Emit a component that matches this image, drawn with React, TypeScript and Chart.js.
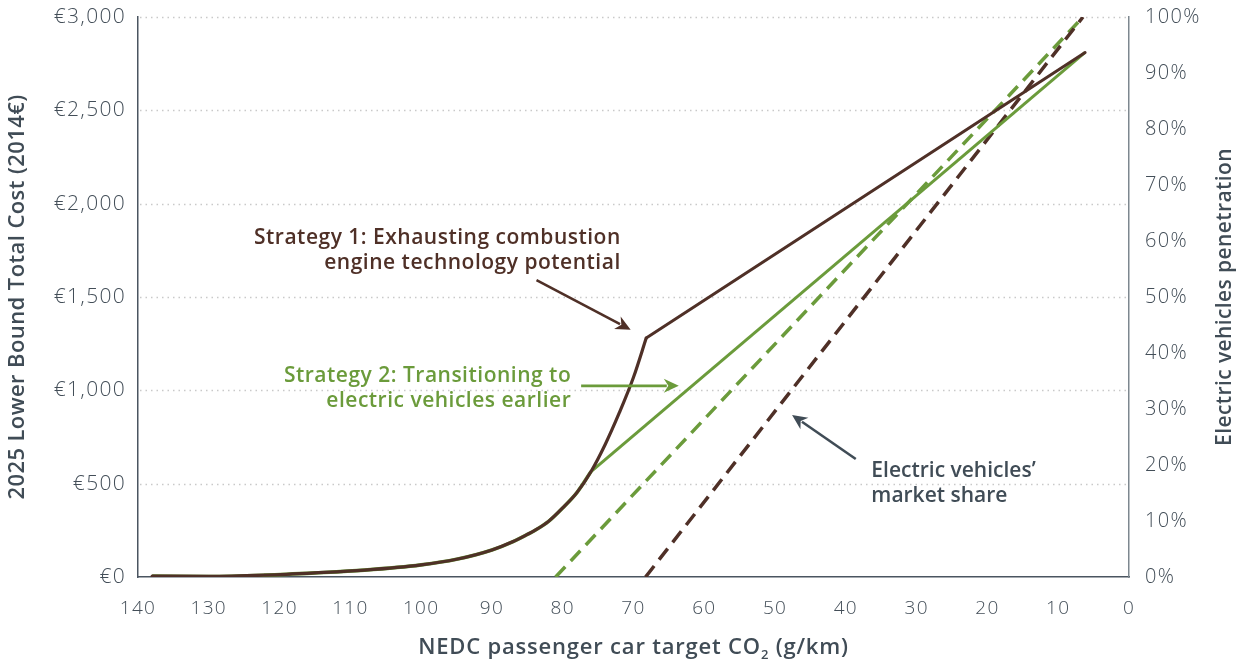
import React, { useEffect, useRef } from "react";
import { Chart, registerables } from "chart.js";

Chart.register(...registerables);

// ---- Data ----
// Shared cost curve (combustion technology improvements), CO2 target g/km vs 2014€
const curveCo2 = [138, 130, 122, 115, 108, 100, 95, 90, 87, 85, 84, 82, 80, 78, 76, 74, 72, 70, 68.2];
const curveCost = [5, 3, 10, 22, 37, 65, 95, 145, 190, 228, 248, 298, 370, 452, 565, 710, 880, 1070, 1280];
const branchIndex = 14; // Strategy 2 leaves the combustion curve at 76 g/km

// Strategy 1 linear segment after the combustion limit
const s1LineCo2 = [68.2, 6.2];
const s1LineCost = [1280, 2810];

// Strategy 2 linear segment (earlier transition to EVs)
const s2LineCo2 = [76, 6.2];
const s2LineCost = [565, 2810];

// Electric vehicle market share (right axis, %)
const evShareS2Co2 = [81.0, 6.5];
const evShareS2 = [0, 100];
const evShareS1Co2 = [68.3, 6.5];
const evShareS1 = [0, 100];

// Axis ranges / labels
const xMin = 0;
const xMax = 140;
const xStep = 10;
const costMax = 3000;
const costStep = 500;
const shareMax = 100;
const shareStep = 10;

const leftTitle = "2025 Lower Bound Total Cost (2014€)";
const rightTitle = "Electric vehicles penetration";
const xTitleMain = "NEDC passenger car target CO";
const xTitleSub = "2";
const xTitleTail = " (g/km)";

const s1Label = ["Strategy 1: Exhausting combustion", "engine technology potential"];
const s2Label = ["Strategy 2: Transitioning to", "electric vehicles earlier"];
const evLabel = ["Electric vehicles’", "market share"];

// ---- Styles ----
const BROWN = "#4f3027";
const GREEN = "#6b9b3b";
const GRAY = "#404c56";
const TICK = "#434e58";
const AXIS = "#4a5560";
const FONT = '"Open Sans", "Noto Sans", sans-serif';

const pts = (xs: number[], ys: number[]) => xs.map((x, i) => ({ x, y: ys[i] }));

export default function App() {
  const ref = useRef<HTMLCanvasElement | null>(null);

  useEffect(() => {
    if (!ref.current) return;

    const gridPlugin = {
      id: "dottedGrid",
      beforeDraw(chart: any) {
        (chart.ctx as any).letterSpacing = "1.3px";
      },
      beforeDatasetsDraw(chart: any) {
        const { ctx, chartArea } = chart;
        const y = chart.scales.y;
        ctx.save();
        (ctx as any).letterSpacing = "0px";
        ctx.strokeStyle = "#c9c9c9";
        ctx.lineWidth = 1.3;
        ctx.setLineDash([1.5, 4]);
        for (let v = costStep; v <= costMax; v += costStep) {
          const py = Math.round(y.getPixelForValue(v)) + 0.5;
          ctx.beginPath();
          ctx.moveTo(chartArea.left + 2, py);
          ctx.lineTo(chartArea.right - 2, py);
          ctx.stroke();
        }
        ctx.restore();
      },
    };

    const textPlugin = {
      id: "annotations",
      afterDraw(chart: any) {
        const { ctx, chartArea } = chart;
        const x = chart.scales.x;
        const y = chart.scales.y;
        const px = (v: number) => x.getPixelForValue(v);
        const py = (v: number) => y.getPixelForValue(v);
        (ctx as any).letterSpacing = "0px";

        const arrow = (x1: number, y1: number, x2: number, y2: number, color: string) => {
          const ang = Math.atan2(y2 - y1, x2 - x1);
          const head = 15;
          const half = 7;
          ctx.save();
          ctx.strokeStyle = color;
          ctx.fillStyle = color;
          ctx.lineWidth = 2.6;
          ctx.beginPath();
          ctx.moveTo(x1, y1);
          ctx.lineTo(x2 - Math.cos(ang) * head * 0.8, y2 - Math.sin(ang) * head * 0.8);
          ctx.stroke();
          ctx.beginPath();
          ctx.moveTo(x2, y2);
          ctx.lineTo(
            x2 - Math.cos(ang) * head - Math.sin(ang) * half,
            y2 - Math.sin(ang) * head + Math.cos(ang) * half
          );
          ctx.lineTo(x2 - Math.cos(ang) * head * 0.7, y2 - Math.sin(ang) * head * 0.7);
          ctx.lineTo(
            x2 - Math.cos(ang) * head + Math.sin(ang) * half,
            y2 - Math.sin(ang) * head - Math.cos(ang) * half
          );
          ctx.closePath();
          ctx.fill();
          ctx.restore();
        };

        const block = (
          lines: string[],
          ax: number,
          ay: number[],
          align: CanvasTextAlign,
          color: string,
          spacing: string
        ) => {
          ctx.save();
          ctx.font = `600 21px ${FONT}`;
          (ctx as any).letterSpacing = spacing;
          ctx.fillStyle = color;
          ctx.textAlign = align;
          ctx.textBaseline = "middle";
          lines.forEach((l, i) => ctx.fillText(l, px(ax), py(ay[i])));
          ctx.restore();
        };

        // Strategy 1
        block(s1Label, 71.8, [1816, 1682], "right", BROWN, "0.5px");
        arrow(px(83.7), py(1590), px(70.4), py(1325), BROWN);
        // Strategy 2
        block(s2Label, 78.8, [1078, 944], "right", GREEN, "0.5px");
        arrow(px(77.4), py(1024), px(63.6), py(1024), GREEN);
        // EV market share
        block(evLabel, 36.4, [568, 434], "left", GRAY, "0px");
        arrow(px(38.6), py(632), px(47.6), py(868), GRAY);

        // Axis titles
        const midY = (chartArea.top + chartArea.bottom) / 2;
        ctx.save();
        ctx.font = `600 22px ${FONT}`;
        (ctx as any).letterSpacing = "0.4px";
        ctx.fillStyle = GRAY;
        ctx.textAlign = "center";
        ctx.textBaseline = "middle";
        ctx.translate(18, midY);
        ctx.rotate(-Math.PI / 2);
        ctx.fillText(leftTitle, 0, 0);
        ctx.restore();

        ctx.save();
        ctx.font = `600 21px ${FONT}`;
        (ctx as any).letterSpacing = "0.4px";
        ctx.fillStyle = GRAY;
        ctx.textAlign = "center";
        ctx.textBaseline = "middle";
        ctx.translate(1225, midY);
        ctx.rotate(-Math.PI / 2);
        ctx.fillText(rightTitle, 0, 0);
        ctx.restore();

        // X title with subscript
        ctx.save();
        ctx.fillStyle = GRAY;
        ctx.textBaseline = "alphabetic";
        (ctx as any).letterSpacing = "0.8px";
        const mainFont = `600 22px ${FONT}`;
        const subFont = `600 13px ${FONT}`;
        ctx.font = mainFont;
        const w1 = ctx.measureText(xTitleMain).width;
        const w3 = ctx.measureText(xTitleTail).width;
        ctx.font = subFont;
        const w2 = ctx.measureText(xTitleSub).width;
        const total = w1 + w2 + w3;
        const cx = (chartArea.left + chartArea.right) / 2;
        let sx = cx - total / 2;
        const base = 654;
        ctx.font = mainFont;
        ctx.textAlign = "left";
        ctx.fillText(xTitleMain, sx, base);
        sx += w1;
        ctx.font = subFont;
        ctx.fillText(xTitleSub, sx, base + 5);
        sx += w2;
        ctx.font = mainFont;
        ctx.fillText(xTitleTail, sx, base);
        ctx.restore();
      },
    };

    const chart = new Chart(ref.current, {
      type: "line",
      data: {
        datasets: [
          {
            label: "Strategy 1 curve",
            data: pts(curveCo2, curveCost),
            yAxisID: "y",
            borderColor: BROWN,
            borderWidth: 3.2,
            pointRadius: 0,
            cubicInterpolationMode: "monotone",
            borderCapStyle: "round",
          },
          {
            label: "Strategy 1 line",
            data: pts(s1LineCo2, s1LineCost),
            yAxisID: "y",
            borderColor: BROWN,
            borderWidth: 3,
            pointRadius: 0,
            tension: 0,
            borderCapStyle: "round",
          },
          {
            label: "Strategy 2 line",
            data: pts(s2LineCo2, s2LineCost),
            yAxisID: "y",
            borderColor: GREEN,
            borderWidth: 3,
            pointRadius: 0,
            tension: 0,
          },
          {
            label: "Strategy 2 curve",
            data: pts(curveCo2.slice(0, branchIndex + 1), curveCost.slice(0, branchIndex + 1)),
            yAxisID: "y",
            borderColor: GREEN,
            borderWidth: 3.6,
            pointRadius: 0,
            cubicInterpolationMode: "monotone",
          },
          {
            label: "EV share (Strategy 1)",
            data: pts(evShareS1Co2, evShareS1),
            yAxisID: "y1",
            borderColor: BROWN,
            borderWidth: 3.5,
            borderDash: [14, 8],
            pointRadius: 0,
            tension: 0,
          },
          {
            label: "EV share (Strategy 2)",
            data: pts(evShareS2Co2, evShareS2),
            yAxisID: "y1",
            borderColor: GREEN,
            borderWidth: 3.5,
            borderDash: [14, 8],
            pointRadius: 0,
            tension: 0,
          },
        ],
      },
      options: {
        animation: false,
        responsive: true,
        maintainAspectRatio: false,
        layout: { padding: { top: 17, left: 0, right: 0, bottom: 0 } },
        plugins: { legend: { display: false }, tooltip: { enabled: false } },
        scales: {
          x: {
            type: "linear",
            reverse: true,
            min: xMin,
            max: xMax,
            grid: { display: false, drawTicks: false },
            border: { display: true, color: AXIS, width: 1.5 },
            ticks: {
              stepSize: xStep,
              padding: 20,
              color: TICK,
              font: { family: FONT, size: 19, weight: "300" as any },
              maxRotation: 0,
            },
            afterFit: (s: any) => {
              s.height = 84;
              s.paddingLeft = 0;
              s.paddingRight = 0;
            },
          },
          y: {
            type: "linear",
            position: "left",
            min: 0,
            max: costMax,
            grid: { display: false, drawTicks: false },
            border: { display: true, color: AXIS, width: 1.5 },
            ticks: {
              stepSize: costStep,
              padding: 12,
              color: TICK,
              font: { family: FONT, size: 21, weight: "300" as any },
              callback: (v: any) => "€" + Number(v).toLocaleString("en-US"),
            },
            afterFit: (s: any) => {
              s.width = 138;
              s.paddingTop = 0;
              s.paddingBottom = 0;
            },
          },
          y1: {
            type: "linear",
            position: "right",
            min: 0,
            max: shareMax,
            grid: { display: false, drawTicks: false },
            border: { display: true, color: "#7d878f", width: 1.5 },
            ticks: {
              stepSize: shareStep,
              padding: 16,
              color: TICK,
              font: { family: FONT, size: 20, weight: "300" as any },
              callback: (v: any) => v + "%",
            },
            afterFit: (s: any) => {
              s.width = 113;
              s.paddingTop = 0;
              s.paddingBottom = 0;
            },
          },
        },
      },
      plugins: [gridPlugin, textPlugin],
    });

    return () => chart.destroy();
  }, []);

  return (
    <div style={{ position: "absolute", left: 0, top: 0, width: 1242, height: 661, background: "#fff" }}>
      <canvas ref={ref} />
    </div>
  );
}
